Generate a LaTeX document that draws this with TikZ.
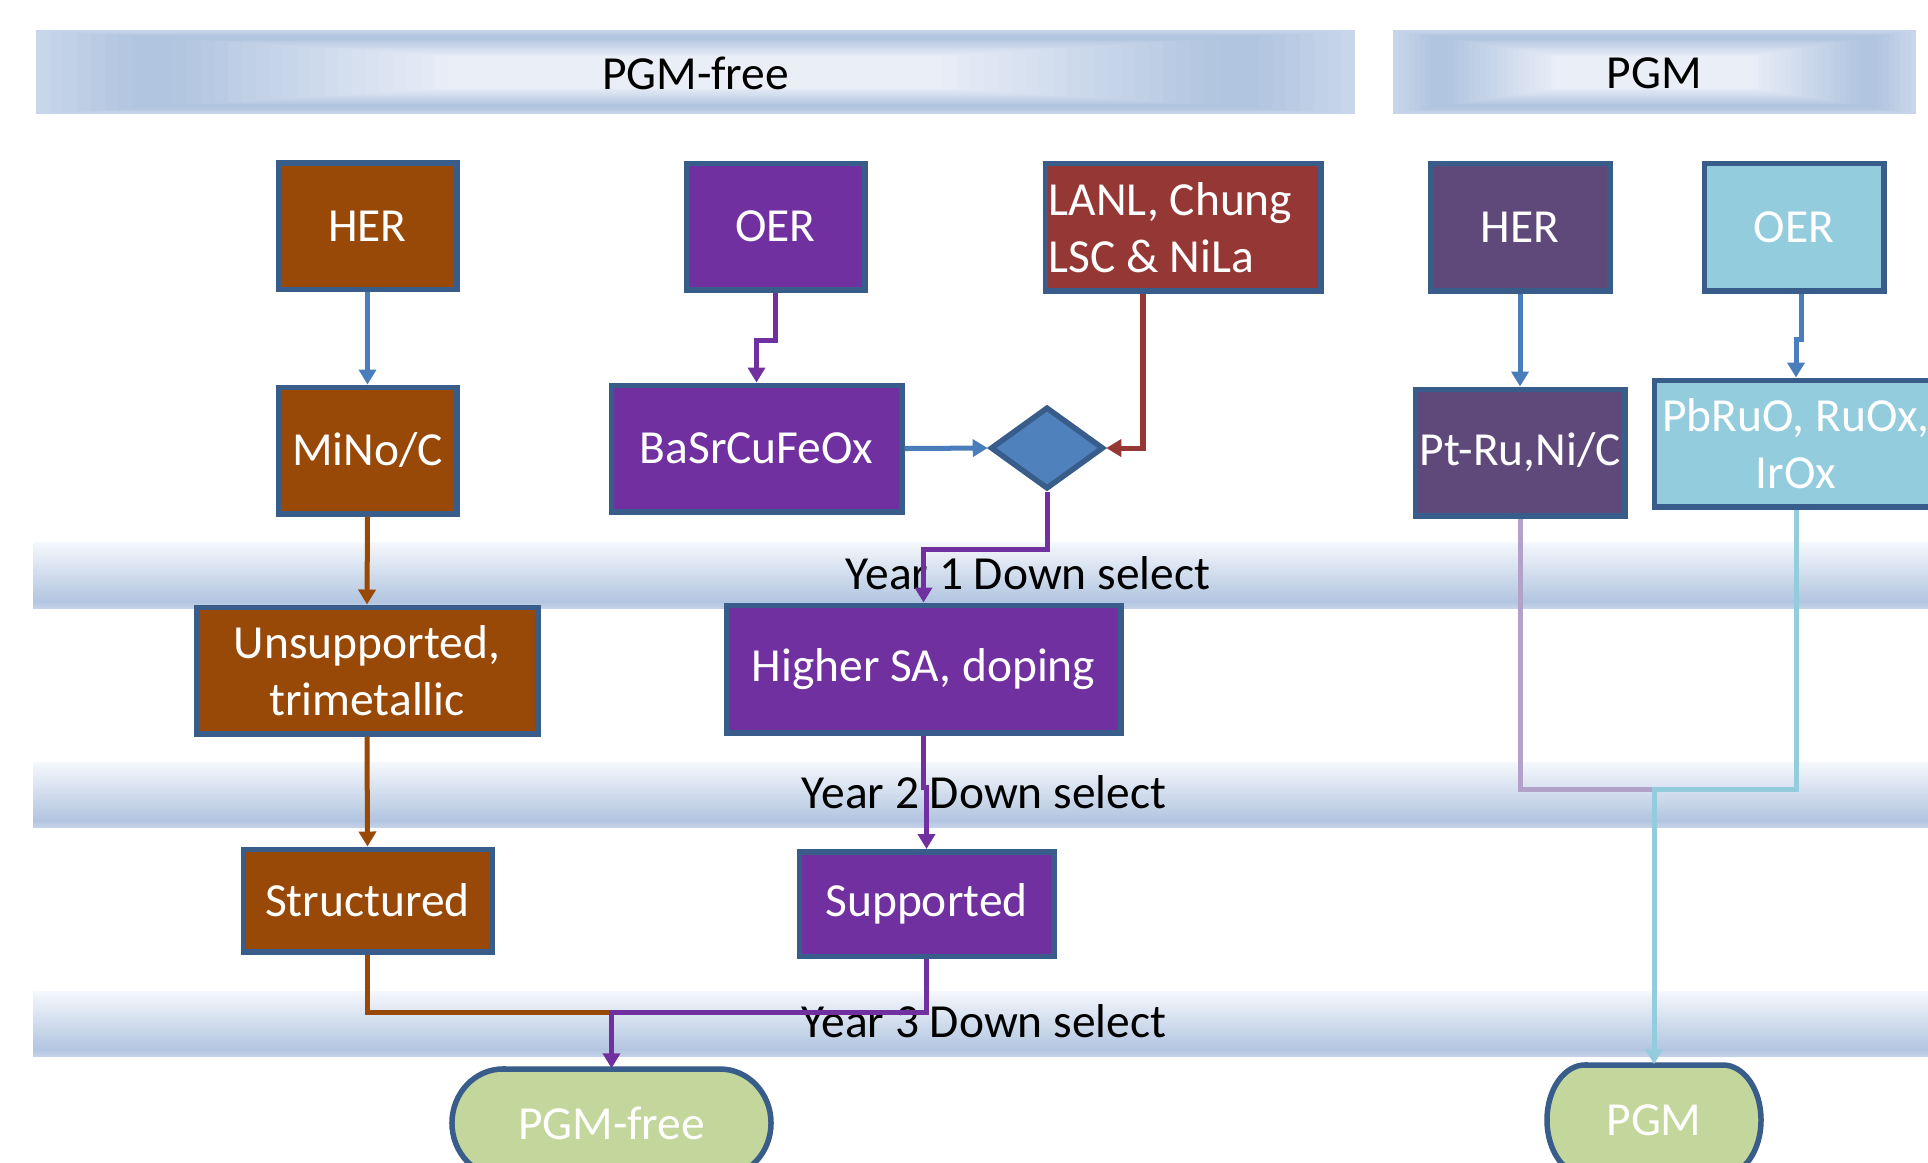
\documentclass[tikz,border=0pt]{standalone}
\usepackage{fontspec}
\setmainfont{Carlito}
\usetikzlibrary{arrows.meta,shapes.geometric}

\definecolor{borderblue}{HTML}{385D8A}
\definecolor{brownfill}{HTML}{984807}
\definecolor{purplefill}{HTML}{7030A0}
\definecolor{redfill}{HTML}{953735}
\definecolor{plumfill}{HTML}{5F497A}
\definecolor{aquafill}{HTML}{93CDDD}
\definecolor{greenfill}{HTML}{C3D69B}
\definecolor{diafill}{HTML}{4F81BD}
\definecolor{linkblue}{HTML}{4A7EBB}
\definecolor{linkbrown}{HTML}{984807}
\definecolor{linkpurple}{HTML}{7030A0}
\definecolor{linkred}{HTML}{953735}
\definecolor{linklav}{HTML}{B3A2C7}
\definecolor{linkaqua}{HTML}{93CDDD}
\definecolor{hdredge}{HTML}{C8D6EA}
\definecolor{hdrdark}{HTML}{B1C5E0}
\definecolor{hdrlight}{HTML}{E9EEF7}
\definecolor{bandedge}{HTML}{C4D2E8}
\definecolor{banddark}{HTML}{B2C5E0}
\definecolor{bandtop}{HTML}{F5F8FC}

% vertical gradient of the year bands (bottom to top; the path maps onto 25bp..75bp)
\pgfdeclareverticalshading{yearband}{100bp}{color(0bp)=(bandedge); color(25bp)=(bandedge);
  color(30bp)=(banddark); color(75bp)=(bandtop); color(100bp)=(bandtop)}

\newcommand\boxfont{\fontsize{13.5}{16.2}\selectfont}

% header band drawn as nested rectangles: lighter rim, dark ring, light centre
\newcommand\hdrband[4]{%
  \foreach \i in {0,...,48}{%
    \pgfmathsetmacro\t{\i/48}%
    \pgfmathsetmacro\q{max(0,min(100,(\t-0.2)/0.42*100))}%
    \pgfmathsetmacro\e{max(0,(1-\t/0.14)*100)}%
    \ifdim\t pt<0.14pt
      \fill[hdredge!\e!hdrdark]
        ({#1+\t*(#3-#1)/2},{#2+\t*(#4-#2)/2}) rectangle ({#3-\t*(#3-#1)/2},{#4-\t*(#4-#2)/2});
    \else
      \fill[hdrlight!\q!hdrdark]
        ({#1+\t*(#3-#1)/2},{#2+\t*(#4-#2)/2}) rectangle ({#3-\t*(#3-#1)/2},{#4-\t*(#4-#2)/2});
    \fi
  }}

\begin{document}
\begin{tikzpicture}[x=0.01cm, y=-0.01cm,
  box/.style={rectangle, draw=borderblue, line width=0.055cm, inner sep=0pt,
    text=white, align=center, font=\boxfont},
  sz/.style 2 args={minimum width={(#1-5.5)*0.01cm}, minimum height={(#2-5.5)*0.01cm}},
  conn/.style={line width=0.05cm},
  tip/.style={-{Triangle[length=0.15cm,width=0.17cm]}},
  bandtext/.style={font=\boxfont, text=black, inner sep=0pt},
  termtext/.style={font=\boxfont, text=white, inner sep=0pt}
]
\useasboundingbox (0,0) rectangle (1928,1162);
\clip (0,0) rectangle (1928,1162);
\fill[white] (0,0) rectangle (1928,1162);

% column headers
\hdrband{36}{30}{1355}{114}
\hdrband{1393}{30}{1916}{114}
\node[bandtext] (hfree) at (695.5,73) {PGM-free};
\node[bandtext] (hpgm) at (1654.5,73) {PGM};

% yearly down-select bands
\shade[shading=yearband] (33,542) rectangle (1928,608);
\shade[shading=yearband] (33,762) rectangle (1928,827);
\shade[shading=yearband] (33,991) rectangle (1928,1056);
\node[bandtext] (y1) at (1028,573) {Year 1 Down select};
\node[bandtext] (y2) at (984,792) {Year 2 Down select};
\node[bandtext] (y3) at (984,1021) {Year 3 Down select};

% first row
\node[box, fill=brownfill, sz={184}{132}] (her1) at (367.5,226) {HER};
\node[box, fill=purplefill, sz={184}{132}] (oer1) at (775.5,226.5) {OER};
\node[box, fill=redfill, sz={281}{133}] (lanl) at (1183,227) {};
\node[box, draw=none, fill=none, align=left, anchor=west] (lanltxt) at (1046,228)
  {LANL, Chung\\LSC \& NiLa};
\node[box, fill=plumfill, sz={185}{133}] (her2) at (1520,227) {HER};
\node[box, fill=aquafill, sz={185}{133}] (oer2) at (1794,227) {OER};

% second row
\node[box, fill=brownfill, sz={184}{132}] (mino) at (367.5,450.5) {MiNo/C};
\node[box, fill=purplefill, sz={296}{132}] (basr) at (756.5,448.5) {BaSrCuFeOx};
\node[diamond, draw=borderblue, fill=diafill, line width=0.055cm, inner sep=0pt,
  minimum width=1.13cm, minimum height=0.82cm] (dia) at (1047,448) {};
\node[box, fill=plumfill, sz={215}{132}] (ptru) at (1520,452.5) {Pt-Ru,Ni/C};
\node[box, fill=aquafill, sz={289}{132}] (pbru) at (1796,443.5) {PbRuO, RuOx,\\IrOx};

% after year 1
\node[box, fill=brownfill, sz={347}{132}] (unsup) at (367,670.5) {Unsupported,\\trimetallic};
\node[box, fill=purplefill, sz={400}{133}] (hsa) at (923.5,669) {Higher SA, doping};

% after year 2
\node[box, fill=brownfill, sz={254}{108}] (struct) at (367.5,900.5) {Structured};
\node[box, fill=purplefill, sz={260}{110}] (sup) at (926.5,904) {Supported};

% terminals
\filldraw[fill=greenfill, draw=borderblue, line width=0.055cm]
  (503,1069) -- (720,1069) arc[start angle=90, end angle=-90, x radius=0.51cm, y radius=0.54cm]
  -- (503,1177) arc[start angle=270, end angle=90, x radius=0.51cm, y radius=0.54cm] -- cycle;
\node[termtext, minimum width=3.19cm, minimum height=1.08cm] (pgmfree) at (611.5,1123) {PGM-free};
\filldraw[fill=greenfill, draw=borderblue, line width=0.055cm]
  (1585,1065) -- (1723,1065) arc[start angle=90, end angle=-90, x radius=0.38cm, y radius=0.55cm]
  -- (1585,1175) arc[start angle=270, end angle=90, x radius=0.38cm, y radius=0.55cm] -- cycle;
\node[termtext, minimum width=2.14cm, minimum height=1.10cm] (pgm) at (1654,1120) {PGM};

% junction points where two flows merge
\coordinate (jfree) at (611.5,1012);
\coordinate (jpgm) at (1654,789);

% PGM-free flows
\draw[conn, tip, linkblue] (her1.south) -- (mino.north);
\draw[conn, tip, linkpurple] (oer1.south) -- ++(0,48) -| (basr.north);
\draw[conn, tip, linkblue] (basr.east) -- (dia.west);
\draw[conn, tip, linkred] ([xshift=-0.4cm]lanl.south) |- (dia.east);
\draw[conn, tip, linkpurple] (dia.south) -- ++(0,58) -| (hsa.north);
\draw[conn, tip, linkbrown] (mino.south) -- (unsup.north);
\draw[conn, tip, linkpurple] (hsa.south) -- ++(0,52) -| (sup.north);
\draw[conn, tip, linkbrown] (unsup.south) -- (struct.north);
\draw[conn, linkbrown] (struct.south) |- (jfree);
\draw[conn, tip, linkpurple] (sup.south) |- (jfree) -- (pgmfree.north);

% PGM flows
\draw[conn, tip, linkblue] (her2.south) -- (ptru.north);
\draw[conn, tip, linkblue] ([xshift=0.07cm]oer2.south) -- ++(0,46) -| (pbru.north);
\draw[conn, linklav] (ptru.south) |- (jpgm);
\draw[conn, tip, linkaqua] (pbru.south) |- (jpgm) -- (pgm.north);
\end{tikzpicture}
\end{document}
